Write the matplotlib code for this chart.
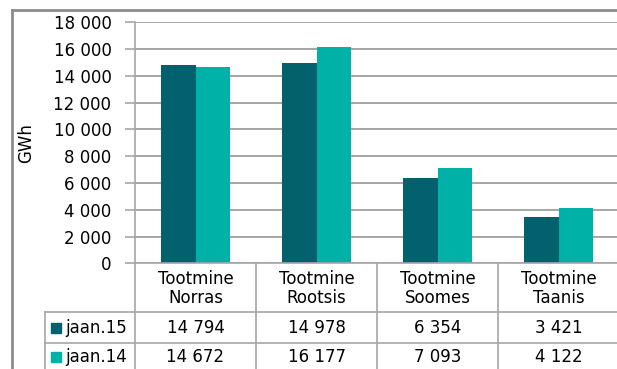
import matplotlib
matplotlib.use("Agg")
import matplotlib.pyplot as plt
from matplotlib.lines import Line2D
from matplotlib.patches import Rectangle

categories = ["Tootmine\nNorras", "Tootmine\nRootsis", "Tootmine\nSoomes", "Tootmine\nTaanis"]
series_names = ["jaan.15", "jaan.14"]
jaan15 = [14794, 14978, 6354, 3421]
jaan14 = [14672, 16177, 7093, 4122]
yticks = [0, 2000, 4000, 6000, 8000, 10000, 12000, 14000, 16000, 18000]
ylabel = "GWh"

colors = ["#03616E", "#00B1A8"]
grid_c = "#A6A6A6"
fs = 12

W, H = 617, 369
fig = plt.figure(figsize=(W / 100, H / 100), dpi=100)
plt.rcParams['font.family'] = ['DejaVu Sans']

def fx(px):
    return px / W

def fy(py):
    return 1 - py / H

x0, x1 = 135, 619
y0, y1 = 263.3, 22.3
ax = fig.add_axes([fx(x0), fy(y0), fx(x1) - fx(x0), fy(y1) - fy(y0)])
ax.set_xlim(-0.5, 3.5)
ax.set_ylim(0, 18000)
ax.set_yticks(yticks)
ax.set_yticklabels([f"{v:,}".replace(",", " ") for v in yticks], fontsize=fs)
ax.set_xticks([])
for s in ax.spines.values():
    s.set_visible(False)
ax.spines['left'].set_visible(True)
ax.spines['left'].set_color(grid_c)
ax.spines['left'].set_linewidth(1.2)
ax.tick_params(axis='y', length=7, width=1.2, color=grid_c, pad=10)
ax.yaxis.grid(True, color=grid_c, linewidth=1.4)
ax.set_axisbelow(True)

bw = 0.284
xs = list(range(len(categories)))
ax.bar([x - bw / 2 for x in xs], jaan15, width=bw, color=colors[0], zorder=3)
ax.bar([x + bw / 2 for x in xs], jaan14, width=bw, color=colors[1], zorder=3)
ax.set_ylabel(ylabel, fontsize=fs)
ax.yaxis.set_label_coords((35 - x0) / (x1 - x0), 0.5)

# table lines (figure coords)
lc = grid_c
lw = 1.2
def hline(y, xa, xb):
    fig.add_artist(Line2D([fx(xa), fx(xb)], [fy(y), fy(y)], color=lc, lw=lw))
def vline(x, ya, yb):
    fig.add_artist(Line2D([fx(x), fx(x)], [fy(ya), fy(yb)], color=lc, lw=lw))

cat_w = (x1 - x0) / 4
row_top, row1, row2, row_bot = 263.3, 312.3, 343.3, 372
hline(row_top, x0, W)
hline(row1, 45, W)
hline(row2, 45, W)
vline(45, row1, row_bot)
for i in range(5):
    vline(x0 + i * cat_w, row_top, row_bot)

for i, c in enumerate(categories):
    cx = x0 + (i + 0.5) * cat_w
    fig.text(fx(cx), fy((row_top + row1) / 2 + 1), c, ha='center', va='center',
             fontsize=fs, linespacing=1.05)
    fig.text(fx(cx), fy((row1 + row2) / 2), f"{jaan15[i]:,}".replace(",", " "),
             ha='center', va='center', fontsize=fs)
    fig.text(fx(cx), fy((row2 + row_bot) / 2 - 1), f"{jaan14[i]:,}".replace(",", " "),
             ha='center', va='center', fontsize=fs)

for r, (ya, yb) in enumerate([(row1, row2), (row2, row_bot - 1)]):
    cy = (ya + yb) / 2
    fig.add_artist(Rectangle((fx(51), fy(cy + 5)), fx(10), fy(0) - fy(10),
                             color=colors[r], transform=fig.transFigure))
    fig.text(fx(65), fy(cy), series_names[r], ha='left', va='center', fontsize=fs)

# outer chart border
fig.add_artist(Line2D([fx(12), fx(W)], [fy(10), fy(10)], color="#8C8C8C", lw=2))
fig.add_artist(Line2D([fx(12), fx(12)], [fy(10), fy(H)], color="#8C8C8C", lw=2))

fig.savefig("out.png", dpi=100)
